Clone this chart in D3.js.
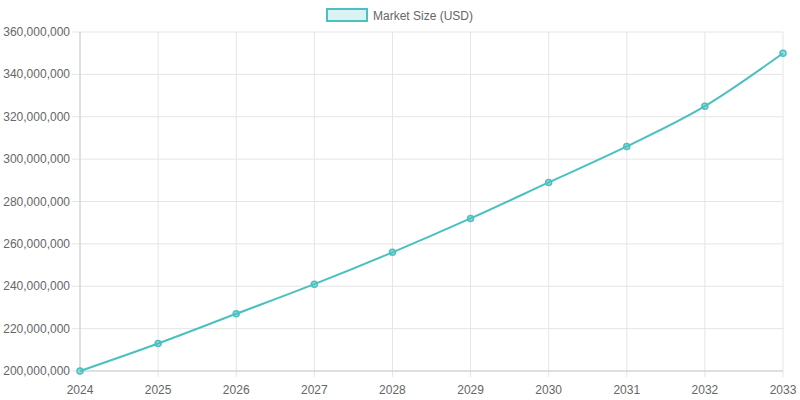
<!DOCTYPE html>
<html><head><meta charset="utf-8">
<script src="https://cdn.jsdelivr.net/npm/d3@7"></script>
<style>body{margin:0;background:#fff}text{font-family:"Liberation Sans",Arial,sans-serif}</style>
</head><body><svg id="c" width="800" height="400"></svg>
<script>
const years = ["2024","2025","2026","2027","2028","2029","2030","2031","2032","2033"];
const marketSize = [200000000,213000000,227000000,241000000,256000000,272000000,289000000,306000000,325000000,350000000];
const yTicks = [200000000,220000000,240000000,260000000,280000000,300000000,320000000,340000000,360000000];
const seriesName = "Market Size (USD)";

const svg = d3.select("#c");
const L=80,R=783,T=32,B=371;
const x = d3.scalePoint().domain(years).range([L,R]);
const y = d3.scaleLinear().domain([200000000,360000000]).range([B,T]);
const col="rgb(75,192,192)";
const g = svg.append("g");
g.selectAll(".h").data(yTicks).enter().append("line")
 .attr("x1",L-8).attr("x2",R).attr("y1",d=>y(d)).attr("y2",d=>y(d)).attr("stroke","#e5e5e5");
g.selectAll(".v").data(years).enter().append("line")
 .attr("x1",d=>x(d)).attr("x2",d=>x(d)).attr("y1",T).attr("y2",B+6).attr("stroke","#e5e5e5");
g.append("line").attr("x1",L).attr("x2",L).attr("y1",T).attr("y2",B).attr("stroke","#ccc");
g.append("line").attr("x1",L).attr("x2",R).attr("y1",B).attr("y2",B).attr("stroke","#ccc");
const fmt=d3.format(",");
g.selectAll(".yl").data(yTicks).enter().append("text")
 .attr("x",L-10).attr("y",d=>y(d)+4).attr("text-anchor","end").attr("font-size",12).attr("fill","#666").text(d=>fmt(d));
g.selectAll(".xl").data(years).enter().append("text")
 .attr("x",d=>x(d)).attr("y",B+23).attr("text-anchor","middle").attr("font-size",12).attr("fill","#666").text(d=>d);
const line=d3.line().x((d,i)=>x(years[i])).y(d=>y(d)).curve(d3.curveMonotoneX);
svg.append("path").attr("d",line(marketSize)).attr("fill","none").attr("stroke",col).attr("stroke-width",2);
svg.selectAll(".p").data(marketSize).enter().append("circle")
 .attr("cx",(d,i)=>x(years[i])).attr("cy",d=>y(d)).attr("r",3).attr("fill","rgba(75,192,192,0.5)").attr("stroke",col).attr("stroke-width",1.5);
svg.append("rect").attr("x",327).attr("y",9).attr("width",40).attr("height",12).attr("fill","rgba(75,192,192,0.2)").attr("stroke",col).attr("stroke-width",2);
svg.append("text").attr("x",373).attr("y",20).attr("font-size",12).attr("fill","#666").text(seriesName);
</script></body></html>
